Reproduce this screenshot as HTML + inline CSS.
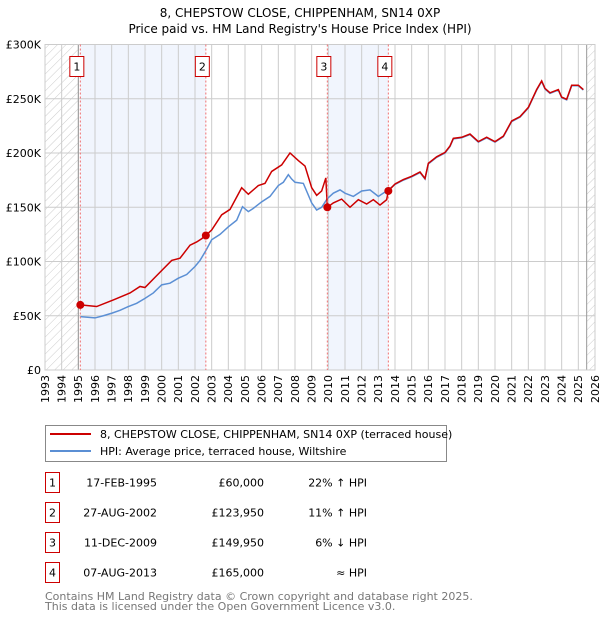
<!DOCTYPE html>
<html><head><meta charset="utf-8"><style>
body{margin:0;background:#fff;font-family:"DejaVu Sans","Liberation Sans",sans-serif;}
svg text{font-family:"DejaVu Sans","Liberation Sans",sans-serif;}
</style></head><body>
<svg id="c" width="600" height="620" xmlns="http://www.w3.org/2000/svg">
<defs><pattern id="h" width="6" height="6" patternUnits="userSpaceOnUse" patternTransform="rotate(45)"><line x1="0" y1="0" x2="0" y2="6" stroke="#ccc" stroke-width="1"/></pattern></defs>
<text x="300" y="17" text-anchor="middle" font-size="12">8, CHEPSTOW CLOSE, CHIPPENHAM, SN14 0XP</text>
<text x="300" y="33" text-anchor="middle" font-size="12">Price paid vs. HM Land Registry's House Price Index (HPI)</text>
<g id="plot"></g>
<g>
<rect x="45.5" y="425.5" width="401" height="36" fill="#fff" stroke="#888"/>
<line x1="50" y1="434" x2="91" y2="434" stroke="#cc0000" stroke-width="2"/>
<text x="100" y="438" font-size="11">8, CHEPSTOW CLOSE, CHIPPENHAM, SN14 0XP (terraced house)</text>
<line x1="50" y1="451" x2="91" y2="451" stroke="#5b8fd4" stroke-width="2"/>
<text x="100" y="455" font-size="11">HPI: Average price, terraced house, Wiltshire</text>
</g>
<g id="table" font-size="11"></g>
<text x="45" y="600" font-size="11" fill="#777">Contains HM Land Registry data © Crown copyright and database right 2025.</text>
<text x="45" y="610" font-size="11" fill="#777">This data is licensed under the Open Government Licence v3.0.</text>
</svg>
<script>
const hpiYears=[1995.12,1996,1996.5,1997,1997.5,1998,1998.5,1999,1999.5,2000,2000.5,2001,2001.5,2002,2002.3,2002.65,2003,2003.5,2004,2004.5,2004.85,2005.2,2005.5,2006,2006.5,2007,2007.3,2007.6,2007.8,2008,2008.5,2009,2009.3,2009.6,2009.94,2010.3,2010.7,2011,2011.5,2012,2012.5,2013,2013.3,2013.6,2014,2014.5,2015,2015.5,2015.8,2016,2016.5,2017,2017.3,2017.5,2018,2018.5,2019,2019.5,2020,2020.5,2021,2021.5,2022,2022.5,2022.8,2023,2023.3,2023.8,2024,2024.3,2024.6,2025,2025.3];
const hpiValues=[49200,48000,50000,52300,55000,58500,61500,66000,71000,78500,80000,84600,88000,95400,101000,110000,120000,125000,132000,138000,150500,146000,149000,155000,160000,170000,173000,180000,176000,173000,172000,154000,147500,150000,158000,163000,166000,163000,160000,165000,166000,160000,163000,166000,171000,175000,178000,182000,176000,190000,196000,200000,206000,213000,214000,217000,210000,214000,210000,215000,229000,233000,241500,258000,266000,259000,255000,258000,251000,249000,262000,262000,258000];
const propYears=[1995.12,1996.1,1997.1,1998.1,1998.7,1999.0,1999.7,2000.6,2001.1,2001.7,2002.1,2002.4,2002.65,2003.0,2003.6,2004.1,2004.8,2005.2,2005.8,2006.2,2006.6,2007.2,2007.7,2008.2,2008.6,2009.0,2009.3,2009.6,2009.85,2009.94,2010.3,2010.8,2011.3,2011.8,2012.3,2012.7,2013.1,2013.5,2013.6,2014,2014.5,2015,2015.5,2015.8,2016,2016.5,2017,2017.3,2017.5,2018,2018.5,2019,2019.5,2020,2020.5,2021,2021.5,2022,2022.5,2022.8,2023,2023.3,2023.8,2024,2024.3,2024.6,2025,2025.3];
const propValues=[60000,58500,64600,71000,77000,76000,87000,101000,103000,115000,118000,121000,124000,129000,143000,148000,168000,162000,170000,172000,183000,189000,200000,193000,188000,168000,161000,165000,177000,149950,154000,157500,150000,157000,153000,157000,152000,157000,165000,171500,175500,178500,182500,176500,190500,196500,200500,206500,213500,214500,217500,210500,214500,210500,215500,229500,233500,242000,258500,266500,259500,255500,258500,251500,249500,262500,262500,258500];
const saleYears=[1995.12,2002.65,2009.94,2013.6];
const salePrices=[60000,123950,149950,165000];
const saleLabels=["1","2","3","4"];
const saleDates=["17-FEB-1995","27-AUG-2002","11-DEC-2009","07-AUG-2013"];
const salePriceText=["£60,000","£123,950","£149,950","£165,000"];
const saleHpiText=["22% ↑ HPI","11% ↑ HPI","6% ↓ HPI","≈ HPI"];
const yTicks=[0,50000,100000,150000,200000,250000,300000];
const yTickLabels=["£0","£50K","£100K","£150K","£200K","£250K","£300K"];
const xTicks=[1993,1994,1995,1996,1997,1998,1999,2000,2001,2002,2003,2004,2005,2006,2007,2008,2009,2010,2011,2012,2013,2014,2015,2016,2017,2018,2019,2020,2021,2022,2023,2024,2025,2026];

const L=45,R=595,T=44.5,B=370,X0=1993,X1=2026,YMAX=300000;
const X=v=>L+(v-X0)/(X1-X0)*(R-L);
const Y=v=>B-v/YMAX*(B-T);
const NS="http://www.w3.org/2000/svg";
function mk(tag,attrs,parent){const e=document.createElementNS(NS,tag);for(const k in attrs)e.setAttribute(k,attrs[k]);parent.appendChild(e);return e;}
const g=document.getElementById('plot');
for(let i=0;i<saleYears.length;i+=2){const r=mk('rect',{x:X(saleYears[i]),y:T,width:X(saleYears[i+1])-X(saleYears[i]),height:B-T,fill:'#eef3fd',opacity:0.8},g);

}
const h1=mk('rect',{x:L,y:T,width:X(1995)-L,height:B-T,fill:'url(#h)'},g);


const h2=mk('rect',{x:X(2025.5),y:T,width:R-X(2025.5),height:B-T,fill:'url(#h)'},g);


xTicks.forEach(t=>{mk('line',{x1:X(t),x2:X(t),y1:T,y2:B,stroke:'#ccc','stroke-width':1},g);
const tx=mk('text',{x:X(t),y:B+5,'font-size':11,'text-anchor':'end',transform:`rotate(-90 ${X(t)} ${B+5})`,dy:'0.35em'},g);tx.textContent=t;

});
yTicks.forEach((t,i)=>{mk('line',{x1:L,x2:R,y1:Y(t),y2:Y(t),stroke:'#ccc','stroke-width':1},g);
const tx=mk('text',{x:L-4,y:Y(t)+4,'font-size':11,'text-anchor':'end'},g);tx.textContent=yTickLabels[i];

});
mk('line',{x1:X(1995),x2:X(1995),y1:T,y2:B,stroke:'#999'},g);
mk('line',{x1:X(2025.5),x2:X(2025.5),y1:T,y2:B,stroke:'#999'},g);
mk('rect',{x:L,y:T,width:R-L,height:B-T,fill:'none',stroke:'#ccc'},g);
const hp=mk('polyline',{points:hpiYears.map((t,i)=>X(t)+','+Y(hpiValues[i])).join(' '),fill:'none',stroke:'#5b8fd4','stroke-width':1.5},g);


const pl=mk('polyline',{points:propYears.map((t,i)=>X(t)+','+Y(propValues[i])).join(' '),fill:'none',stroke:'#cc0000','stroke-width':1.5},g);


saleYears.forEach((t,i)=>{mk('line',{x1:X(t),x2:X(t),y1:T,y2:B,stroke:'#f07070','stroke-dasharray':'2,2'},g);
const c=mk('circle',{cx:X(t),cy:Y(salePrices[i]),r:4,fill:'#cc0000'},g);


const b=mk('rect',{x:X(t)-10.5,y:56.5,width:14,height:20,fill:'#fff',stroke:'#cc0000'},g);


const tx=mk('text',{x:X(t)-3.5,y:70.5,'font-size':11,'text-anchor':'middle'},g);tx.textContent=saleLabels[i];});
const tb=document.getElementById('table');
saleYears.forEach((t,i)=>{const cy=483+30*i;
const b=mk('rect',{x:45.5,y:cy-10.5,width:14,height:20,fill:'#fff',stroke:'#cc0000'},tb);


const n=mk('text',{x:52.5,y:cy+3.5,'text-anchor':'middle'},tb);n.textContent=saleLabels[i];
const d=mk('text',{x:157,y:cy+3.5,'text-anchor':'end'},tb);d.textContent=saleDates[i];


const p=mk('text',{x:264,y:cy+3.5,'text-anchor':'end'},tb);p.textContent=salePriceText[i];


const hh=mk('text',{x:367,y:cy+3.5,'text-anchor':'end'},tb);hh.textContent=saleHpiText[i];

});
</script>
</body></html>
